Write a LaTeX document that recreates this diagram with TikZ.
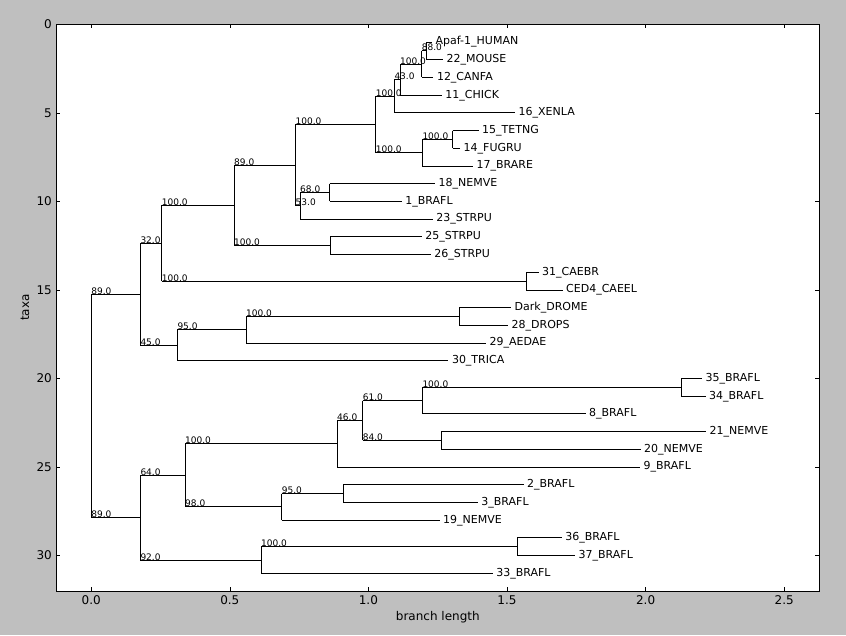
\documentclass[tikz,border=0pt]{standalone}
\usepackage{fontspec}
\setmainfont{DejaVu Sans}
\definecolor{figbg}{HTML}{BFBFBF}
\tikzset{
  br/.style={line width=0.9pt, black},
  conf/.style={font=\fontsize{9}{9}\selectfont, anchor=base west, inner sep=0pt},
  leaf/.style={font=\fontsize{11}{11}\selectfont, anchor=west, inner sep=0pt, xshift=3.5pt, execute at begin node=\vphantom{lp}},
  tickmark/.style={line width=0.6pt, black},
  ticklab/.style={font=\fontsize{12}{12}\selectfont, inner sep=0pt},
}
\newcommand\hbranch[2]{\draw[br] (#2 |- #1) -- (#1);}
\newcommand\vbranch[3]{\draw[br] (#1 |- #2) -- (#1 |- #3);}
\newcommand\conflab[3]{\node[conf] (c#1) at (#2 |- #1) {#3};}
\begin{document}
\begin{tikzpicture}[x=1pt,y=-1pt]
\fill[figbg] (0,0) rectangle (846,635);
\useasboundingbox (0,0) rectangle (846,635);
\coordinate (axNW) at (56.3,24.3);
\coordinate (axSE) at (819.3,591);
\fill[white] (axNW) rectangle (axSE);
% ticks
\foreach \v/\lab [count=\i] in {0/0.0,0.5/0.5,1/1.0,1.5/1.5,2/2.0,2.5/2.5}{
  \pgfmathsetmacro\px{91.2+277.2*\v}
  \draw[tickmark] (\px,24.3) -- (\px,28.3);
  \draw[tickmark] (\px,591) -- (\px,587);
  \node[ticklab,anchor=base] (xt\i) at (\px,604) {\lab};
}
\foreach \v [count=\i] in {0,5,...,30}{
  \pgfmathsetmacro\py{24.3+17.71*\v}
  \draw[tickmark] (56.3,\py) -- (60.3,\py);
  \draw[tickmark] (819.3,\py) -- (815.3,\py);
  \node[ticklab,anchor=east] (yt\i) at (52,\py) {\v};
}
\node[ticklab,anchor=base] (xlabel) at (437.8,620.5) {branch length};
\node[ticklab,anchor=base,rotate=90] (ylabel) at (29,307.6) {taxa};

\begin{scope}[yshift=-24.3pt, y=-17.71pt]
% leaves
\coordinate (L1) at (432,1);
\coordinate (L2) at (443,2);
\coordinate (L3) at (433.3,3);
\coordinate (L4) at (441.7,4);
\coordinate (L5) at (515,5);
\coordinate (L6) at (478.5,6);
\coordinate (L7) at (460,7);
\coordinate (L8) at (473,8);
\coordinate (L9) at (435,9);
\coordinate (L10) at (401.7,10);
\coordinate (L11) at (432.7,11);
\coordinate (L12) at (421.7,12);
\coordinate (L13) at (430.7,13);
\coordinate (L14) at (538.5,14);
\coordinate (L15) at (562.5,15);
\coordinate (L16) at (511,16);
\coordinate (L17) at (508,17);
\coordinate (L18) at (486,18);
\coordinate (L19) at (448.3,19);
\coordinate (L20) at (702,20);
\coordinate (L21) at (705.5,21);
\coordinate (L22) at (585.5,22);
\coordinate (L23) at (706,23);
\coordinate (L24) at (640.5,24);
\coordinate (L25) at (640,25);
\coordinate (L26) at (523.5,26);
\coordinate (L27) at (477.7,27);
\coordinate (L28) at (439.5,28);
\coordinate (L29) at (561.7,29);
\coordinate (L30) at (575,30);
\coordinate (L31) at (492.7,31);
% internal clades
\coordinate (root) at (91.2,21.55176);
\coordinate (A) at (140.3,15.24414);
\coordinate (A1) at (161.7,12.36328);
\coordinate (A1a) at (234,10.22656);
\coordinate (A1a1) at (295.5,7.953125);
\coordinate (V) at (375.7,5.65625);
\coordinate (V1) at (394.3,4.0625);
\coordinate (V2) at (400,3.125);
\coordinate (V3) at (421.7,2.25);
\coordinate (V4) at (426.7,1.5);
\coordinate (F) at (422.3,7.25);
\coordinate (TF) at (452.7,6.5);
\coordinate (X) at (300,10.25);
\coordinate (N68) at (329.5,9.5);
\coordinate (S) at (330,12.5);
\coordinate (C) at (526,14.5);
\coordinate (A2) at (177.3,18.125);
\coordinate (A2a) at (246,17.25);
\coordinate (D) at (459.3,16.5);
\coordinate (B) at (140.3,27.859375);
\coordinate (B5) at (185,25.46875);
\coordinate (B3) at (337,23.6875);
\coordinate (B2) at (362.7,22.375);
\coordinate (B1) at (422.3,21.25);
\coordinate (B35) at (681,20.5);
\coordinate (N21) at (441.3,23.5);
\coordinate (B4) at (281.7,27.25);
\coordinate (B4a) at (343.3,26.5);
\coordinate (B6) at (261,30.25);
\coordinate (B6a) at (517,29.5);
% horizontal branches (child, parent)
\hbranch{A}{root} \hbranch{B}{root}
\hbranch{A1}{A} \hbranch{A2}{A}
\hbranch{A1a}{A1} \hbranch{C}{A1}
\hbranch{A1a1}{A1a} \hbranch{S}{A1a}
\hbranch{V}{A1a1} \hbranch{X}{A1a1}
\hbranch{V1}{V} \hbranch{F}{V}
\hbranch{V2}{V1} \hbranch{L5}{V1}
\hbranch{V3}{V2} \hbranch{L4}{V2}
\hbranch{V4}{V3} \hbranch{L3}{V3}
\hbranch{L1}{V4} \hbranch{L2}{V4}
\hbranch{TF}{F} \hbranch{L8}{F}
\hbranch{L6}{TF} \hbranch{L7}{TF}
\hbranch{N68}{X} \hbranch{L11}{X}
\hbranch{L9}{N68} \hbranch{L10}{N68}
\hbranch{L12}{S} \hbranch{L13}{S}
\hbranch{L14}{C} \hbranch{L15}{C}
\hbranch{A2a}{A2} \hbranch{L19}{A2}
\hbranch{D}{A2a} \hbranch{L18}{A2a}
\hbranch{L16}{D} \hbranch{L17}{D}
\hbranch{B5}{B} \hbranch{B6}{B}
\hbranch{B3}{B5} \hbranch{B4}{B5}
\hbranch{B2}{B3} \hbranch{L25}{B3}
\hbranch{B1}{B2} \hbranch{N21}{B2}
\hbranch{B35}{B1} \hbranch{L22}{B1}
\hbranch{L20}{B35} \hbranch{L21}{B35}
\hbranch{L23}{N21} \hbranch{L24}{N21}
\hbranch{B4a}{B4} \hbranch{L28}{B4}
\hbranch{L26}{B4a} \hbranch{L27}{B4a}
\hbranch{B6a}{B6} \hbranch{L31}{B6}
\hbranch{L29}{B6a} \hbranch{L30}{B6a}
% vertical lines
\vbranch{root}{A}{B}
\vbranch{A}{A1}{A2}
\vbranch{A1}{A1a}{C}
\vbranch{A1a}{A1a1}{S}
\vbranch{A1a1}{V}{X}
\vbranch{V}{V1}{F}
\vbranch{V1}{V2}{L5}
\vbranch{V2}{V3}{L4}
\vbranch{V3}{V4}{L3}
\vbranch{V4}{L1}{L2}
\vbranch{F}{TF}{L8}
\vbranch{TF}{L6}{L7}
\vbranch{X}{N68}{L11}
\vbranch{N68}{L9}{L10}
\vbranch{S}{L12}{L13}
\vbranch{C}{L14}{L15}
\vbranch{A2}{A2a}{L19}
\vbranch{A2a}{D}{L18}
\vbranch{D}{L16}{L17}
\vbranch{B}{B5}{B6}
\vbranch{B5}{B3}{B4}
\vbranch{B3}{B2}{L25}
\vbranch{B2}{B1}{N21}
\vbranch{B1}{B35}{L22}
\vbranch{B35}{L20}{L21}
\vbranch{N21}{L23}{L24}
\vbranch{B4}{B4a}{L28}
\vbranch{B4a}{L26}{L27}
\vbranch{B6}{B6a}{L31}
\vbranch{B6a}{L29}{L30}
% confidence labels
\conflab{A}{root}{89.0} \conflab{B}{root}{89.0}
\conflab{A1}{A}{32.0} \conflab{A2}{A}{45.0}
\conflab{A1a}{A1}{100.0} \conflab{C}{A1}{100.0}
\conflab{A1a1}{A1a}{89.0} \conflab{S}{A1a}{100.0}
\conflab{V}{A1a1}{100.0} \conflab{X}{A1a1}{53.0}
\conflab{V1}{V}{100.0} \conflab{F}{V}{100.0}
\conflab{V2}{V1}{43.0} \conflab{V3}{V2}{100.0}
\conflab{V4}{V3}{88.0} \conflab{TF}{F}{100.0}
\conflab{N68}{X}{68.0}
\conflab{A2a}{A2}{95.0} \conflab{D}{A2a}{100.0}
\conflab{B5}{B}{64.0} \conflab{B6}{B}{92.0}
\conflab{B3}{B5}{100.0} \conflab{B4}{B5}{98.0}
\conflab{B2}{B3}{46.0} \conflab{B1}{B2}{61.0}
\conflab{N21}{B2}{84.0} \conflab{B35}{B1}{100.0}
\conflab{B4a}{B4}{95.0} \conflab{B6a}{B6}{100.0}
% leaf labels
\node[leaf] (t1) at (L1) {Apaf-1\_HUMAN};
\node[leaf] (t2) at (L2) {22\_MOUSE};
\node[leaf] (t3) at (L3) {12\_CANFA};
\node[leaf] (t4) at (L4) {11\_CHICK};
\node[leaf] (t5) at (L5) {16\_XENLA};
\node[leaf] (t6) at (L6) {15\_TETNG};
\node[leaf] (t7) at (L7) {14\_FUGRU};
\node[leaf] (t8) at (L8) {17\_BRARE};
\node[leaf] (t9) at (L9) {18\_NEMVE};
\node[leaf] (t10) at (L10) {1\_BRAFL};
\node[leaf] (t11) at (L11) {23\_STRPU};
\node[leaf] (t12) at (L12) {25\_STRPU};
\node[leaf] (t13) at (L13) {26\_STRPU};
\node[leaf] (t14) at (L14) {31\_CAEBR};
\node[leaf] (t15) at (L15) {CED4\_CAEEL};
\node[leaf] (t16) at (L16) {Dark\_DROME};
\node[leaf] (t17) at (L17) {28\_DROPS};
\node[leaf] (t18) at (L18) {29\_AEDAE};
\node[leaf] (t19) at (L19) {30\_TRICA};
\node[leaf] (t20) at (L20) {35\_BRAFL};
\node[leaf] (t21) at (L21) {34\_BRAFL};
\node[leaf] (t22) at (L22) {8\_BRAFL};
\node[leaf] (t23) at (L23) {21\_NEMVE};
\node[leaf] (t24) at (L24) {20\_NEMVE};
\node[leaf] (t25) at (L25) {9\_BRAFL};
\node[leaf] (t26) at (L26) {2\_BRAFL};
\node[leaf] (t27) at (L27) {3\_BRAFL};
\node[leaf] (t28) at (L28) {19\_NEMVE};
\node[leaf] (t29) at (L29) {36\_BRAFL};
\node[leaf] (t30) at (L30) {37\_BRAFL};
\node[leaf] (t31) at (L31) {33\_BRAFL};
\end{scope}
\draw[line width=1pt] (axNW) rectangle (axSE);
\end{tikzpicture}
\end{document}
